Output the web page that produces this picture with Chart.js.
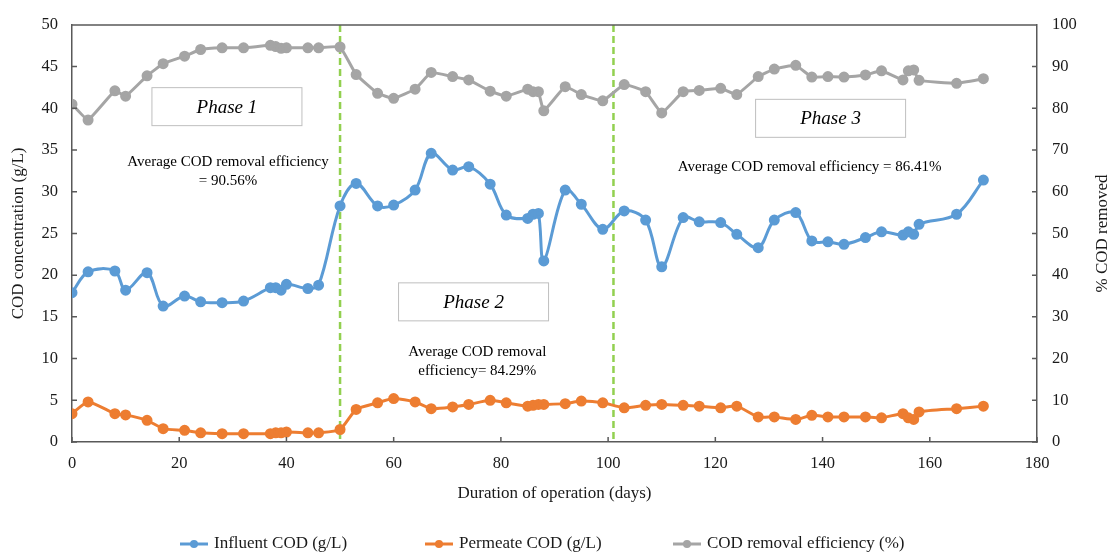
<!DOCTYPE html>
<html>
<head>
<meta charset="utf-8">
<script src="https://cdn.jsdelivr.net/npm/chart.js@4.4.1/dist/chart.umd.min.js"></script>
<style>
  html, body { margin: 0; padding: 0; background: #fff; }
  #wrap { width: 1113px; height: 554px; position: relative; }
</style>
</head>
<body>
<div id="wrap"><canvas id="codChart"></canvas></div>
<script>
// operation days, shared by all three series
const days = [0, 3, 8, 10, 14, 17, 21, 24, 28, 32,
    37, 38, 39, 40, 44, 46,
    50, 53, 57, 60, 64, 67, 71, 74, 78, 81,
    85, 86, 87, 88, 92, 95, 99,
    103, 107, 110, 114, 117, 121, 124, 128, 131, 135,
    138, 141, 144, 148, 151, 155, 156, 157, 158, 165, 170];

const influentCod = [17.9, 20.4, 20.5, 18.2, 20.3, 16.3, 17.5, 16.8, 16.7, 16.9,
    18.5, 18.5, 18.2, 18.9, 18.4, 18.8,
    28.3, 31.0, 28.3, 28.4, 30.2, 34.6, 32.6, 33.0, 30.9, 27.2,
    26.8, 27.3, 27.4, 21.7, 30.2, 28.5, 25.5,
    27.7, 26.6, 21.0, 26.9, 26.4, 26.3, 24.9, 23.3, 26.6, 27.5,
    24.1, 24.0, 23.7, 24.5, 25.2, 24.8, 25.2, 24.9, 26.1, 27.3, 31.4];

const permeateCod = [3.4, 4.8, 3.4, 3.25, 2.6, 1.6, 1.4, 1.1, 1.0, 1.0,
    1.0, 1.1, 1.1, 1.2, 1.1, 1.1,
    1.5, 3.9, 4.7, 5.2, 4.8, 4.0, 4.2, 4.5, 5.0, 4.7,
    4.3, 4.4, 4.5, 4.5, 4.6, 4.9, 4.7,
    4.1, 4.4, 4.5, 4.4, 4.3, 4.1, 4.3, 3.0, 3.0, 2.7,
    3.2, 3.0, 3.0, 3.0, 2.9, 3.4, 2.9, 2.7, 3.6, 4.0, 4.3];

const removalEff = [81.0, 77.2, 84.2, 82.9, 87.8, 90.7, 92.5, 94.1, 94.5, 94.5,
    95.1, 94.8, 94.4, 94.5, 94.5, 94.5,
    94.7, 88.1, 83.6, 82.4, 84.6, 88.6, 87.6, 86.8, 84.1, 82.9,
    84.6, 84.0, 84.0, 79.4, 85.2, 83.3, 81.8,
    85.7, 84.0, 78.9, 84.0, 84.3, 84.8, 83.3, 87.6, 89.4, 90.3,
    87.5, 87.6, 87.5, 88.0, 89.0, 86.8, 89.0, 89.2, 86.7, 86.0, 87.1];

const seriesNames = ["Influent COD (g/L)", "Permeate COD (g/L)", "COD removal efficiency (%)"];
const seriesColors = ["#5b9bd5", "#ed7d31", "#a5a5a5"];

// phase boundaries (days)
const phaseLines = [50, 101];

// phase labels: [text, day, g/L]
const phaseLabels = [["Phase 1", 28.9, 40.2], ["Phase 2", 74.9, 16.8], ["Phase 3", 141.5, 38.8]];

// average notes: [lines, day, g/L of first line]
const avgNotes = [
    [["Average COD removal efficiency", "= 90.56%"], 29.1, 33.6],
    [["Average COD removal", "efficiency= 84.29%"], 75.6, 10.8],
    [["Average COD removal efficiency = 86.41%"], 137.6, 33.0]
];

const rightTitle = "% COD removed";

const SERIF = "'Liberation Serif', 'Times New Roman', serif";
const AXIS_COLOR = "#595959";
const TEXT_COLOR = "#1a1a1a";

function toPoints(values) {
    return days.map(function (d, i) { return { x: d, y: values[i] }; });
}

function makeSet(i, values, axis, tension) {
    return {
        label: seriesNames[i],
        data: toPoints(values),
        yAxisID: axis,
        borderColor: seriesColors[i],
        backgroundColor: seriesColors[i],
        pointBackgroundColor: seriesColors[i],
        pointBorderColor: seriesColors[i],
        borderWidth: 3,
        pointRadius: 4,
        pointHoverRadius: 4,
        tension: tension,
        fill: false
    };
}

const overlay = {
    id: 'overlay',
    beforeDatasetsDraw(chart) {
        const ctx = chart.ctx;
        const xs = chart.scales.x, area = chart.chartArea;
        ctx.save();
        ctx.strokeStyle = "#92d050";
        ctx.lineWidth = 2.5;
        ctx.setLineDash([7, 4]);
        phaseLines.forEach(function (d) {
            const px = xs.getPixelForValue(d);
            ctx.beginPath();
            ctx.moveTo(px, area.top);
            ctx.lineTo(px, area.bottom);
            ctx.stroke();
        });
        ctx.restore();
    },
    afterDraw(chart) {
        const ctx = chart.ctx;
        const xs = chart.scales.x, ys = chart.scales.y, ys1 = chart.scales.y1;
        const area = chart.chartArea;
        ctx.save();

        // top border and inner tick marks
        ctx.strokeStyle = AXIS_COLOR;
        ctx.lineWidth = 1.5;
        ctx.beginPath();
        ctx.moveTo(area.left, area.top);
        ctx.lineTo(area.right, area.top);
        ys.ticks.forEach(function (t) {
            const py = ys.getPixelForValue(t.value);
            ctx.moveTo(area.left, py);
            ctx.lineTo(area.left + 5, py);
        });
        ys1.ticks.forEach(function (t) {
            const py = ys1.getPixelForValue(t.value);
            ctx.moveTo(area.right, py);
            ctx.lineTo(area.right - 5, py);
        });
        xs.ticks.forEach(function (t) {
            const px = xs.getPixelForValue(t.value);
            ctx.moveTo(px, area.bottom);
            ctx.lineTo(px, area.bottom - 5);
        });
        ctx.stroke();

        // right axis title, reading upwards
        ctx.save();
        ctx.translate(1103, (area.top + area.bottom) / 2);
        ctx.rotate(-Math.PI / 2);
        ctx.fillStyle = TEXT_COLOR;
        ctx.font = "17px " + SERIF;
        ctx.textAlign = "center";
        ctx.textBaseline = "middle";
        ctx.fillText(rightTitle, 0, 0);
        ctx.restore();

        // phase boxes
        phaseLabels.forEach(function (p) {
            const cx = xs.getPixelForValue(p[1]);
            const cy = ys.getPixelForValue(p[2]);
            ctx.fillStyle = "#fff";
            ctx.fillRect(cx - 75, cy - 19, 150, 38);
            ctx.strokeStyle = "#bfbfbf";
            ctx.lineWidth = 1;
            ctx.strokeRect(cx - 75, cy - 19, 150, 38);
            ctx.fillStyle = "#000";
            ctx.font = "italic 19px " + SERIF;
            ctx.textAlign = "center";
            ctx.textBaseline = "middle";
            ctx.fillText(p[0], cx, cy + 1);
        });

        // average removal notes
        ctx.font = "15px " + SERIF;
        ctx.fillStyle = "#000";
        ctx.textAlign = "center";
        ctx.textBaseline = "middle";
        avgNotes.forEach(function (n) {
            const cx = xs.getPixelForValue(n[1]);
            const cy = ys.getPixelForValue(n[2]);
            n[0].forEach(function (line, k) {
                ctx.fillText(line, cx, cy + k * 19);
            });
        });

        // legend
        const legendX = [180, 425, 673];
        const legendY = 544;
        ctx.font = "17px " + SERIF;
        ctx.textAlign = "left";
        legendX.forEach(function (lx, i) {
            ctx.strokeStyle = seriesColors[i];
            ctx.fillStyle = seriesColors[i];
            ctx.lineWidth = 3;
            ctx.beginPath();
            ctx.moveTo(lx, legendY);
            ctx.lineTo(lx + 28, legendY);
            ctx.stroke();
            ctx.beginPath();
            ctx.arc(lx + 14, legendY, 4, 0, Math.PI * 2);
            ctx.fill();
            ctx.fillStyle = TEXT_COLOR;
            ctx.fillText(seriesNames[i], lx + 34, legendY);
        });
        ctx.restore();
    }
};

new Chart(document.getElementById('codChart'), {
    type: 'line',
    data: {
        datasets: [
            makeSet(0, influentCod, 'y', 0.35),
            makeSet(1, permeateCod, 'y', 0.2),
            makeSet(2, removalEff, 'y1', 0.1)
        ]
    },
    options: {
        responsive: true,
        maintainAspectRatio: false,
        animation: false,
        layout: { padding: { top: 22, left: 0, right: 0, bottom: 0 } },
        plugins: {
            legend: { display: false },
            tooltip: { enabled: false }
        },
        scales: {
            x: {
                type: 'linear',
                min: 0,
                max: 180,
                afterFit: function (s) { s.height = 112; },
                grid: { display: false, drawTicks: false },
                border: { display: true, color: AXIS_COLOR, width: 1.5 },
                ticks: { stepSize: 20, padding: 12, color: TEXT_COLOR, font: { family: SERIF, size: 16.5 } },
                title: {
                    display: true,
                    text: "Duration of operation (days)",
                    color: TEXT_COLOR,
                    font: { family: SERIF, size: 17 },
                    padding: { top: 0, bottom: 50 }
                }
            },
            y: {
                position: 'left',
                min: 0,
                max: 50,
                afterFit: function (s) { s.width = 72; },
                grid: { display: false, drawTicks: false },
                border: { display: true, color: AXIS_COLOR, width: 1.5 },
                ticks: { stepSize: 5, padding: 14, color: TEXT_COLOR, font: { family: SERIF, size: 16.5 } },
                title: {
                    display: true,
                    text: "COD concentration (g/L)",
                    color: TEXT_COLOR,
                    font: { family: SERIF, size: 17 },
                    padding: { top: 8, bottom: 0 }
                }
            },
            y1: {
                position: 'right',
                min: 0,
                max: 100,
                afterFit: function (s) { s.width = 76; },
                grid: { display: false, drawTicks: false },
                border: { display: true, color: AXIS_COLOR, width: 1.5 },
                ticks: { stepSize: 10, padding: 15, color: TEXT_COLOR, font: { family: SERIF, size: 16.5 } },
                title: { display: false }
            }
        }
    },
    plugins: [overlay]
});
</script>
</body>
</html>
